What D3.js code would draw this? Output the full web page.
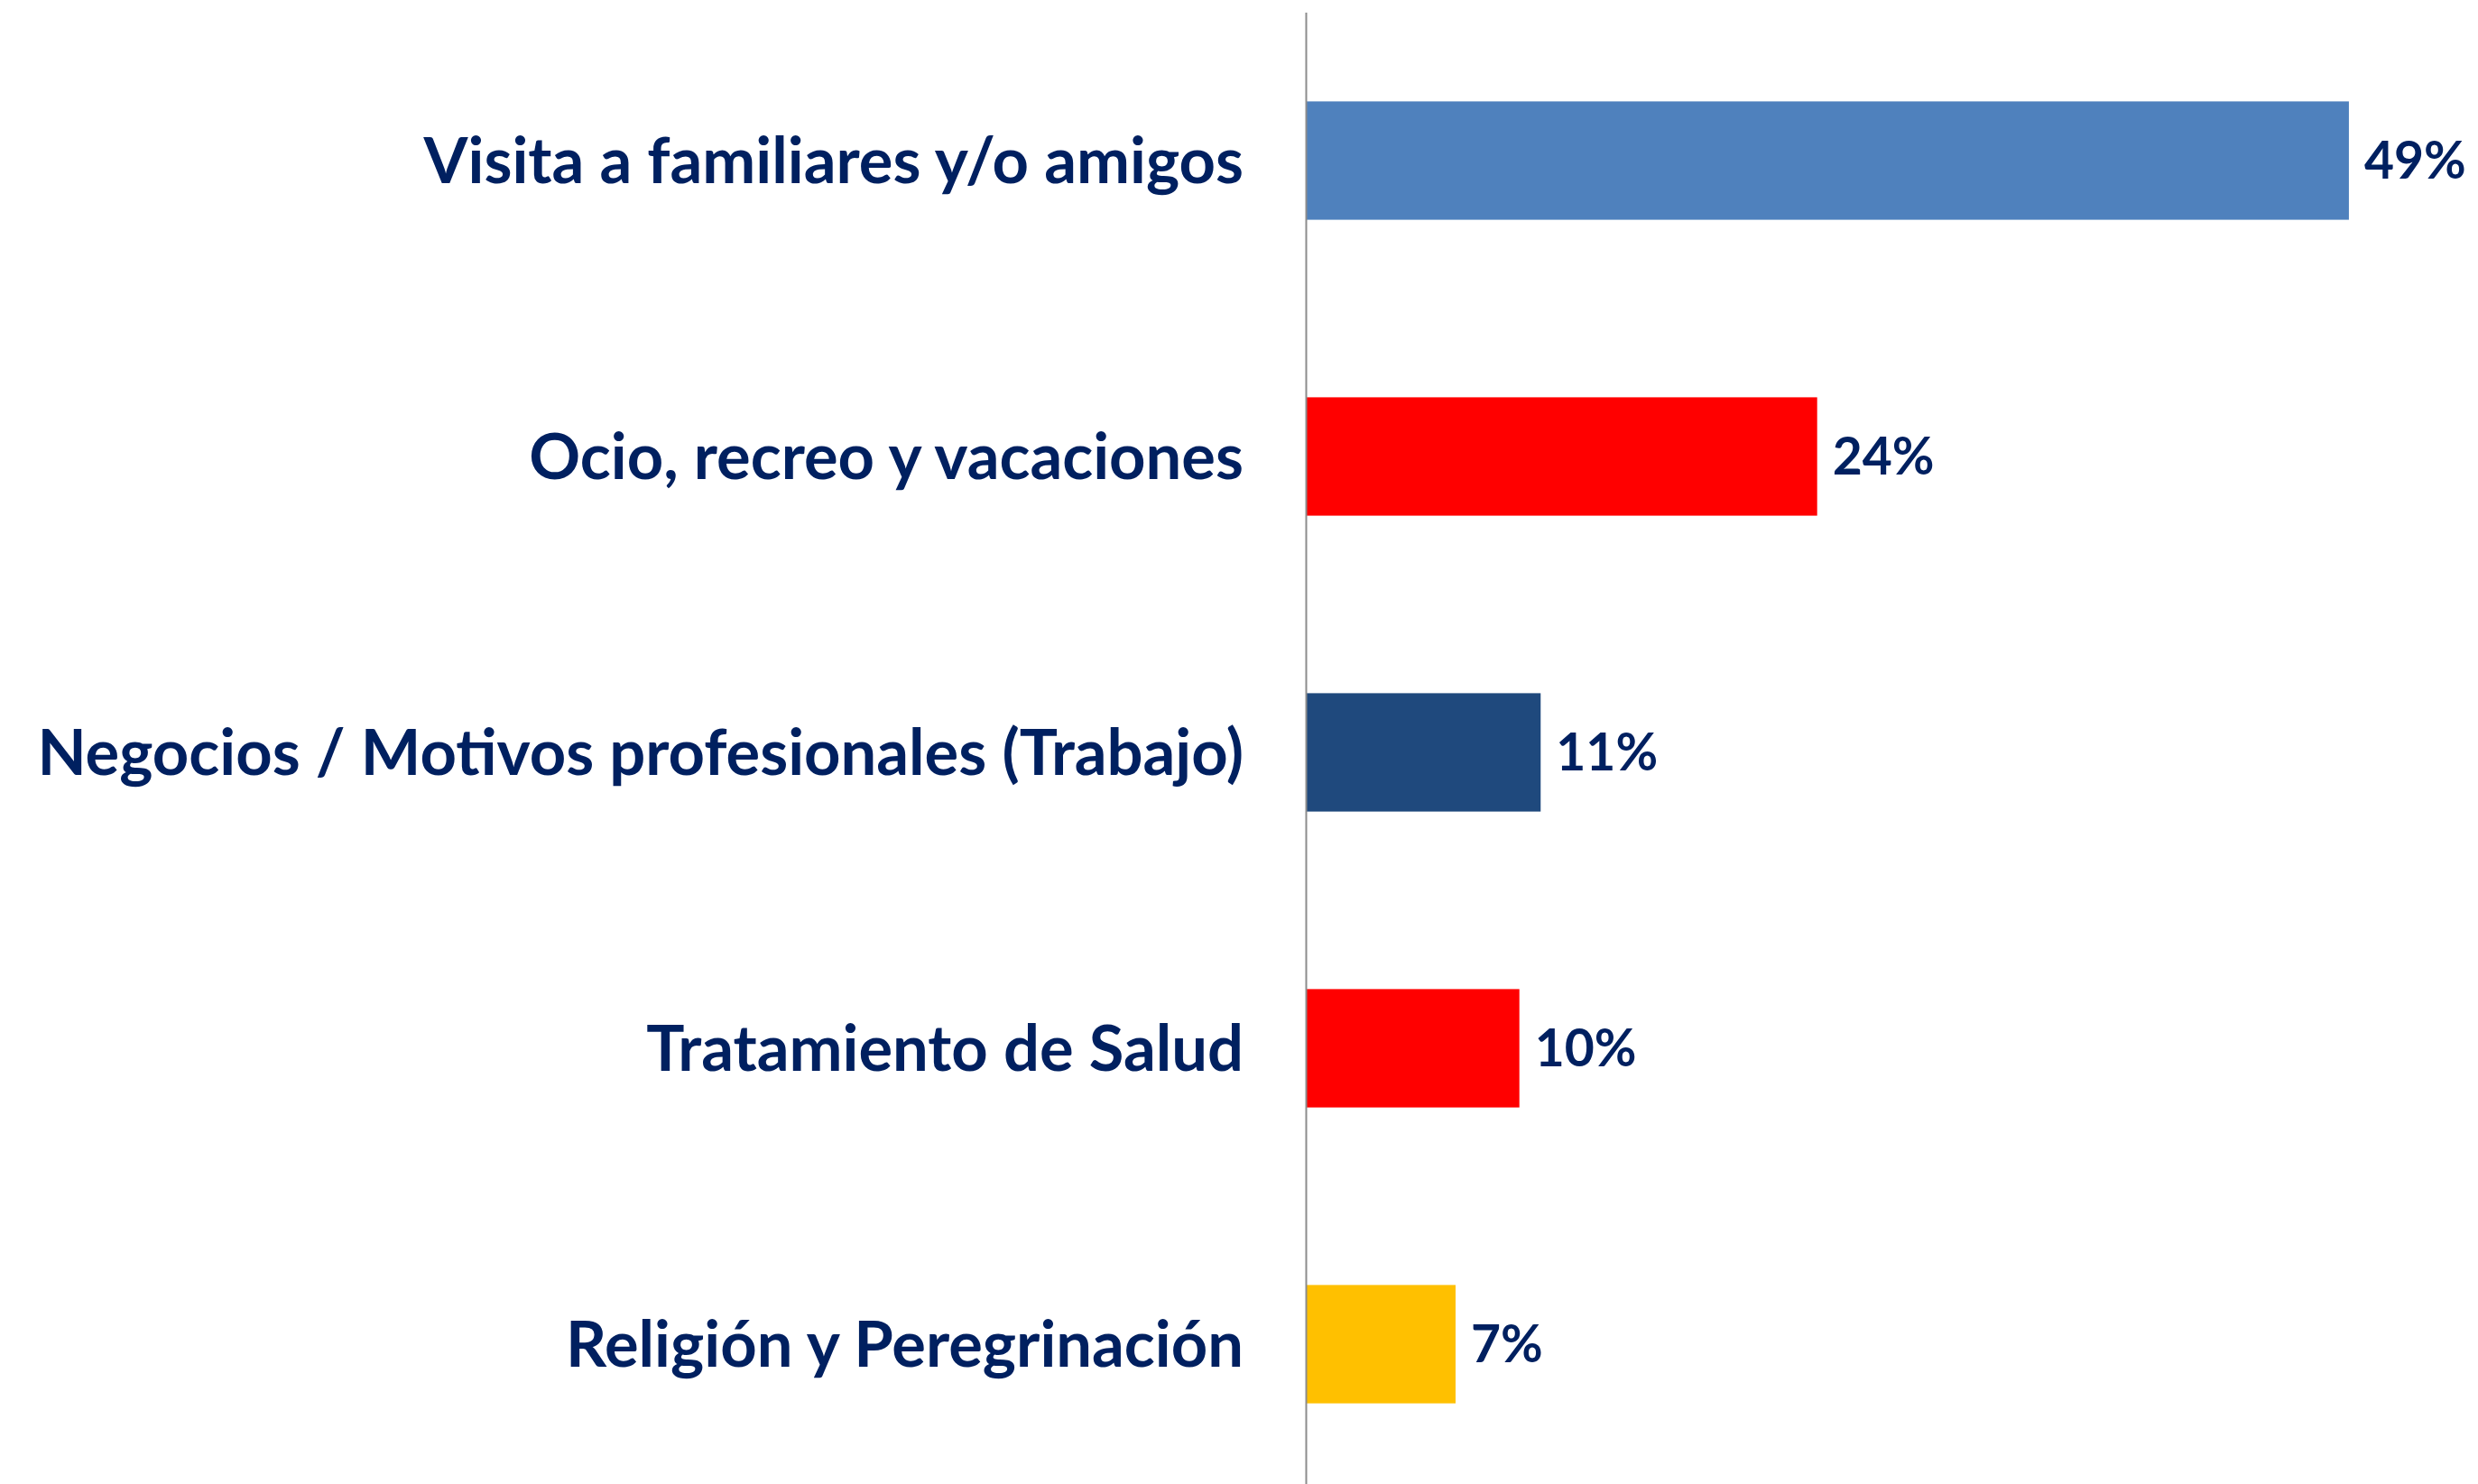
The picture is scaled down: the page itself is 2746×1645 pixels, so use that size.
<!DOCTYPE html>
<html><head><meta charset="utf-8">
<script src="https://cdn.jsdelivr.net/npm/d3@7"></script>
<style>html,body{margin:0;padding:0;background:#fff;overflow:hidden}</style>
</head><body>
<svg id="chart" width="2746" height="1645"></svg>
<script>
const categories = ["Visita a familiares y/o amigos","Ocio, recreo y vacaciones","Negocios / Motivos profesionales (Trabajo)","Tratamiento de Salud","Religión y Peregrinación"];
const values = [49, 24, 11, 10, 7];
const colors = ["#4F81BD","#FF0000","#1F497D","#FF0000","#FFC000"];
const valueLabels = ["49%","24%","11%","10%","7%"];

const svg = d3.select("#chart");
const x0 = 1448;
const x = d3.scaleLinear().domain([0, 50]).range([x0, x0 + 1178.5]);
const y = d3.scaleBand().domain(categories).range([14, 14 + 5*328]).paddingInner(0.6).paddingOuter(0.3);
const font = "Lato, 'Open Sans', sans-serif";
const textColor = "#002060";

svg.selectAll("rect.bar").data(categories).join("rect").attr("class","bar")
  .attr("x", x(0)).attr("y", d => y(d))
  .attr("width", (d,i) => x(values[i]) - x(0)).attr("height", y.bandwidth())
  .attr("fill", (d,i) => colors[i]);

svg.append("line").attr("x1", x0 - 0.5).attr("x2", x0 - 0.5).attr("y1", 14).attr("y2", 1645)
  .attr("stroke", "#8c8c8c").attr("stroke-width", 2);

const yAxis = d3.axisLeft(y).tickSize(0).tickPadding(0);
const ga = svg.append("g").attr("transform", `translate(${x0 - 70},0)`).call(yAxis);
ga.select(".domain").remove();
ga.selectAll("text").attr("font-family", font).attr("font-weight", 700)
  .attr("font-size", 70.5).attr("fill", textColor).attr("dy", "0.35em");

svg.selectAll("text.val").data(categories).join("text").attr("class","val")
  .attr("x", (d,i) => x(values[i]) + 17).attr("y", d => y(d) + y.bandwidth()/2)
  .attr("dy", "0.35em").attr("font-family", font).attr("font-weight", 700)
  .attr("font-size", 57).attr("fill", textColor).text((d,i) => valueLabels[i]);
</script>
</body></html>
